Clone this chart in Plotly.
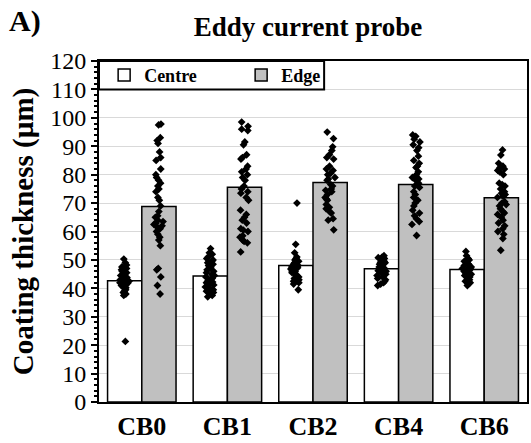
import plotly.graph_objects as go

categories = ["CB0", "CB1", "CB2", "CB4", "CB6"]
centre_means = [42.7, 44.3, 48.0, 46.9, 46.6]
edge_means = [68.8, 75.6, 77.2, 76.5, 71.9]

centre_pts = {
    "CB0": [50.3, 49, 48.2, 47.5, 47, 46.5, 46, 45.8, 45.5, 45, 44.8, 44.5, 44.2, 44, 43.8,
            43.5, 43.2, 43, 42.8, 42.5, 42.2, 42, 41.8, 41.5, 41.2, 41, 40.5, 40.2, 40, 39.5,
            39, 38.5, 38, 37.5, 21.3],
    "CB1": [54, 52.5, 52, 51, 50.5, 50, 49.5, 49, 48.5, 48, 47.5, 47, 46.5, 46, 45.5, 45,
            44.5, 44, 43.5, 43, 42.5, 42, 41.5, 41, 40.5, 40, 39.5, 39, 38.5, 38, 37.5, 37,
            40.2, 41.2, 42.2],
    "CB2": [70, 55.5, 52.5, 51, 50.5, 50, 49.5, 49, 48.5, 48.2, 48, 47.8, 47.5, 47.2, 47,
            46.8, 46.5, 46.2, 46, 45.8, 45.5, 45, 44.5, 44, 43.5, 43, 42.5, 42, 41.5, 39.5],
    "CB4": [51.5, 51, 50.8, 50.5, 50, 49.5, 49.2, 49, 48.5, 48, 47.5, 47.2, 47, 46.5, 46.2,
            46, 45.8, 45.5, 45, 44.5, 44, 43.5, 43, 42.5, 42, 41.5, 41],
    "CB6": [53, 51.5, 50.5, 50, 49.5, 49, 48.5, 48, 47.5, 47.2, 47, 46.8, 46.5, 46.2, 46,
            45.8, 45.5, 45, 44.5, 44, 43.5, 43, 42.5, 42, 41.5, 41],
}

edge_pts = {
    "CB0": [97.5, 97.8, 93, 92, 91, 88, 86, 85, 82, 80, 79, 78, 77, 76, 75, 74, 72, 71, 69,
            67, 65.5, 65, 64, 63.5, 63, 62.5, 62, 61.5, 61, 60, 59, 58, 57, 55, 47, 46.5, 44,
            41, 38],
    "CB1": [98.5, 97, 96, 95.5, 91.5, 90.5, 87, 86, 85.5, 83, 82, 81, 80, 79, 78, 76, 75,
            74, 73.5, 72, 71, 67.5, 66, 65, 64, 63, 61, 60.5, 60, 58.5, 58, 57, 56.5, 56,
            52.8],
    "CB2": [95, 92.7, 89.8, 88.5, 87, 86, 85.5, 83, 82, 81.5, 80.5, 80, 79, 78.5, 78, 76.5,
            76, 75, 74.5, 74, 73, 72, 71.5, 71, 69.5, 68.5, 68, 67, 66.5, 64.5, 64, 60.6],
    "CB4": [94, 93.5, 92.5, 91.5, 90.5, 89.5, 88.5, 86.5, 85, 84, 83, 82.5, 81, 80, 79,
            78.5, 78, 77, 76, 75.5, 74, 73, 72, 71, 70, 69, 67.5, 66.5, 65.5, 64.5, 63.5,
            62.5, 58.6],
    "CB6": [88.7, 86.9, 84, 83, 82.5, 82, 81.5, 81, 80, 77, 76.5, 76, 75, 74, 73.5, 73,
            72.5, 72, 70.5, 70, 69.5, 69, 68, 67, 66.5, 66, 65, 64, 63, 62, 61, 60, 59, 57.5,
            53.4],
}

FONT = "Liberation Serif, Times New Roman, DejaVu Serif, serif"

fig = go.Figure()
fig.add_trace(go.Bar(name="Centre", x=categories, y=centre_means,
                     marker=dict(color="white", line=dict(color="black", width=1.5))))
fig.add_trace(go.Bar(name="Edge", x=categories, y=edge_means,
                     marker=dict(color="#c0c0c0", line=dict(color="black", width=1.5))))

for name, pts in (("Centre", centre_pts), ("Edge", edge_pts)):
    xs, ys = [], []
    for c in categories:
        xs += [c] * len(pts[c])
        ys += pts[c]
    fig.add_trace(go.Box(name=name, x=xs, y=ys, boxpoints="all", jitter=0.3, pointpos=0,
                         fillcolor="rgba(0,0,0,0)", line=dict(color="rgba(0,0,0,0)", width=0),
                         marker=dict(symbol="diamond", size=6, color="black"),
                         showlegend=False, hoverinfo="skip"))

fig.update_layout(
    width=531, height=443,
    margin=dict(l=99, r=2, t=61, b=36),
    paper_bgcolor="white", plot_bgcolor="white",
    barmode="group", bargap=0.2, bargroupgap=0,
    boxmode="group", boxgap=0.2, boxgroupgap=0,
    font=dict(family=FONT, color="black"),
    title=dict(text="Eddy current probe", x=0.58, xanchor="center", y=0.939,
               yanchor="middle", font=dict(size=27, family=FONT, weight="bold")),
    legend=dict(orientation="h", x=0.012, y=115 / 120, xanchor="left", yanchor="middle",
                bgcolor="rgba(0,0,0,0)", borderwidth=0,
                entrywidth=92, font=dict(size=18, family=FONT, weight="bold"),
                tracegroupgap=0),
    showlegend=True,
)
fig.add_shape(type="rect", xref="paper", yref="y", x0=0, x1=0.526, y0=110, y1=120,
              line=dict(color="black", width=2), fillcolor="white", layer="above")
fig.add_annotation(text="A)", xref="paper", yref="paper", x=-0.215, y=1.118,
                   xanchor="left", yanchor="middle", showarrow=False,
                   font=dict(size=30, family=FONT, weight="bold"))

fig.update_yaxes(range=[0, 120], dtick=10, showgrid=True, gridcolor="#d9d9d9", gridwidth=1,
                 ticks="outside", ticklen=6, tickwidth=1.5, tickcolor="black",
                 minor=dict(dtick=2, ticks="outside", ticklen=3, tickcolor="black",
                            showgrid=False),
                 showline=True, linecolor="black", linewidth=2, mirror=True,
                 tickfont=dict(size=24, family=FONT),
                 title=dict(text="Coating thickness (µm)",
                            font=dict(size=29, family=FONT, weight="bold"), standoff=8),
                 zeroline=False)
fig.update_xaxes(showline=True, linecolor="black", linewidth=2, mirror=True, ticks="",
                 tickfont=dict(size=26, family=FONT, weight="bold"))

fig.write_html("out.html")
